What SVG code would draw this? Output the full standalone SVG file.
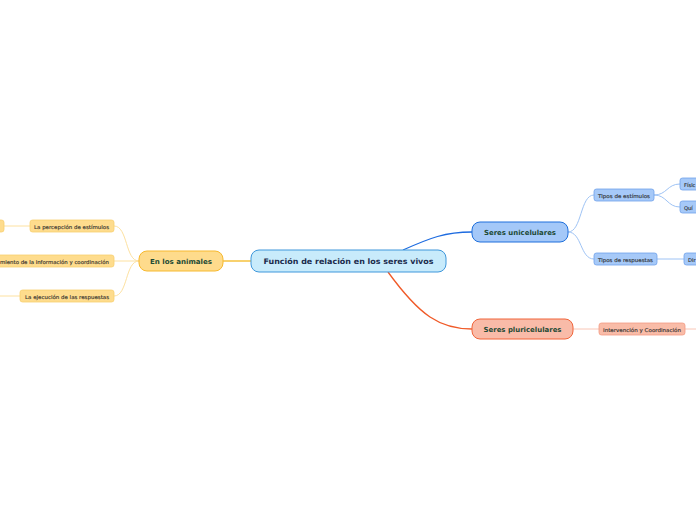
<svg xmlns="http://www.w3.org/2000/svg" width="696" height="520" viewBox="0 0 696 520">
<style>
text{font-family:"DejaVu Sans","Verdana",sans-serif;}
.main{font-weight:bold;font-size:7px;fill:#1d4a35;text-anchor:middle;dominant-baseline:central;}
.sub{font-size:5.2px;fill:#2a2a2a;stroke:#2a2a2a;stroke-width:0.12;dominant-baseline:central;}
.cy{fill:none;stroke:#fde1a0;stroke-width:1;}
.cb{fill:none;stroke:#9ec3f5;stroke-width:1;}
.cr{fill:none;stroke:#f9c6b6;stroke-width:1;}
.ny{fill:#fedc8d;stroke:#f8cf70;stroke-width:0.8;}
.nb{fill:#a6c9f8;stroke:#6fa1ea;stroke-width:0.8;}
.nr{fill:#f9bca8;stroke:#f29b83;stroke-width:0.8;}
</style>
<rect width="696" height="520" fill="#fff"/>
<g id="connectors">
  <path d="M223 261 H251" stroke="#f5b820" stroke-width="1.3" fill="none"/>
  <path d="M403 250 C430 238 445 232 472 232" stroke="#1d6be0" stroke-width="1.3" fill="none"/>
  <path d="M388 272 C420 316 440 329 472 329" stroke="#f05a28" stroke-width="1.3" fill="none"/>
  <path class="cy" d="M139 261 C125 261 128 226 114 226"/>
  <path class="cy" d="M139 261 H114"/>
  <path class="cy" d="M139 261 C125 261 128 296 114 296"/>
  <path class="cy" d="M30 226 H4"/>
  <path class="cy" d="M20 296 H0"/>
  <path class="cb" d="M568 232 C582 232 580 195 594 195"/>
  <path class="cb" d="M568 232 C582 232 580 259 594 259"/>
  <path class="cb" d="M654 195 C667 195 667 184 680 184"/>
  <path class="cb" d="M654 195 C667 195 667 207 680 207"/>
  <path class="cb" d="M657 259 H684"/>
  <path class="cr" d="M573 329 H599"/>
  <path class="cr" d="M685 329 H696"/>
</g>
<g id="central">
  <rect x="251" y="250" width="195" height="22" rx="8" fill="#c8ebfb" stroke="#3e97db" stroke-width="1"/>
  <text x="348.5" y="261.5" class="main" style="fill:#1b2b4d;font-size:7.6px" textLength="170" lengthAdjust="spacingAndGlyphs">Función de relación en los seres vivos</text>
</g>
<g id="animales">
  <rect x="139" y="251" width="84" height="20" rx="8" fill="#fedb8c" stroke="#f7b92e" stroke-width="1"/>
  <text x="181" y="261.5" class="main" textLength="62" lengthAdjust="spacingAndGlyphs">En los animales</text>
</g>
<g id="percepcion">
  <rect class="ny" x="30" y="220" width="84" height="12" rx="2.5"/>
  <text class="sub" x="34" y="226.5" textLength="75" lengthAdjust="spacingAndGlyphs">La percepción de estímulos</text>
</g>
<g id="percepcion-child">
  <rect class="ny" x="-20" y="220" width="24" height="12" rx="2.5"/>
</g>
<g id="procesamiento">
  <rect class="ny" x="-10" y="255" width="124" height="12" rx="2.5"/>
  <text class="sub" x="0" y="261.5" textLength="109" lengthAdjust="spacingAndGlyphs">miento de la información y coordinación</text>
</g>
<g id="ejecucion">
  <rect class="ny" x="20" y="290" width="94" height="12" rx="2.5"/>
  <text class="sub" x="25" y="296.5" textLength="84" lengthAdjust="spacingAndGlyphs">La ejecución de las respuestas</text>
</g>
<g id="unicelulares">
  <rect x="472" y="222" width="96" height="20" rx="8" fill="#a4c8f8" stroke="#1e6fdc" stroke-width="1"/>
  <text x="520" y="232.5" class="main" textLength="72" lengthAdjust="spacingAndGlyphs">Seres unicelulares</text>
</g>
<g id="tipos-estimulos">
  <rect class="nb" x="594" y="189" width="60" height="12" rx="2.5"/>
  <text class="sub" x="598" y="195.5" textLength="52" lengthAdjust="spacingAndGlyphs">Tipos de estímulos</text>
</g>
<g id="fisicos">
  <rect class="nb" x="680" y="178" width="30" height="12" rx="2.5"/>
  <text class="sub" x="684" y="184.5">Físic</text>
</g>
<g id="quimicos">
  <rect class="nb" x="680" y="201" width="30" height="12" rx="2.5"/>
  <text class="sub" x="684" y="207.5">Quí</text>
</g>
<g id="tipos-respuestas">
  <rect class="nb" x="594" y="253" width="63" height="12" rx="2.5"/>
  <text class="sub" x="598" y="259.5" textLength="55" lengthAdjust="spacingAndGlyphs">Tipos de respuestas</text>
</g>
<g id="dir">
  <rect class="nb" x="684" y="253" width="30" height="12" rx="2.5"/>
  <text class="sub" x="688" y="259.5">Dir</text>
</g>
<g id="pluricelulares">
  <rect x="472" y="319" width="101" height="20" rx="8" fill="#f9bba8" stroke="#f0643a" stroke-width="1"/>
  <text x="522.5" y="329.5" class="main" textLength="78" lengthAdjust="spacingAndGlyphs">Seres pluricelulares</text>
</g>
<g id="intervencion">
  <rect class="nr" x="599" y="323" width="86" height="12" rx="2.5"/>
  <text class="sub" x="603" y="329.5" textLength="78" lengthAdjust="spacingAndGlyphs">Intervención y Coordinación</text>
</g>
</svg>
